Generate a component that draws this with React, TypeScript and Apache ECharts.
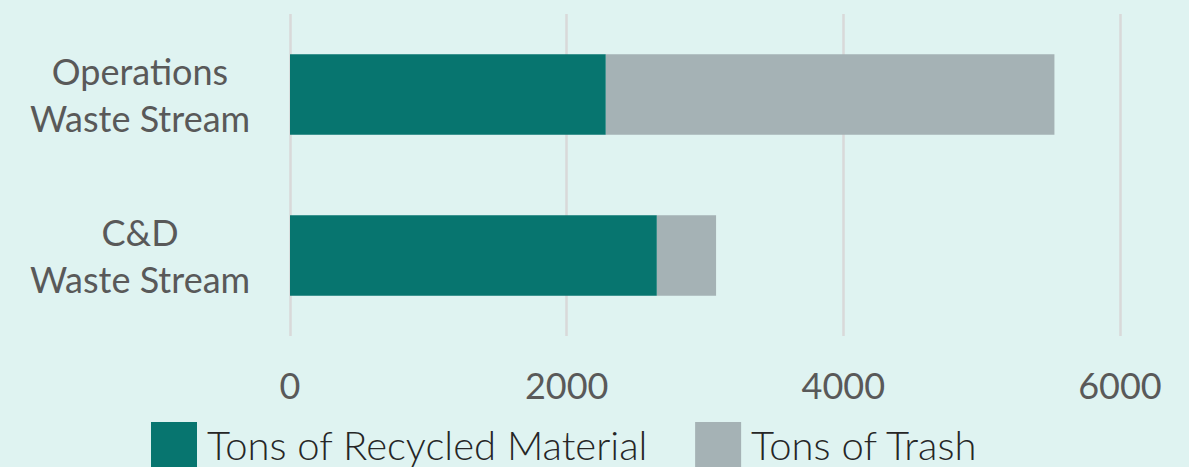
import React, { useEffect, useRef } from "react";
import * as echarts from "echarts";

const categories = ["Operations\nWaste Stream", "C&D\nWaste Stream"];
const recycled = [2283, 2652];
const trash = [3243, 428];
const seriesNames = ["Tons of Recycled Material", "Tons of Trash"];
const xTicks = [0, 2000, 4000, 6000];

export default function App() {
  const ref = useRef<HTMLDivElement>(null);
  useEffect(() => {
    if (!ref.current) return;
    const chart = echarts.init(ref.current, undefined, { renderer: "svg" });
    chart.setOption({
      animation: false,
      backgroundColor: "#dff3f1",
      textStyle: { fontFamily: "Lato" },
      grid: { left: 290, right: 69, top: 14, bottom: 131, containLabel: false },
      legend: {
        left: 151,
        top: 422,
        padding: 0,
        itemWidth: 46,
        itemHeight: 46,
        itemGap: 47,
        icon: "rect",
        textStyle: {
          fontSize: 40,
          color: "#262626",
          fontFamily: "Lato",
          fontWeight: 300,
          padding: [0, 0, 4, 5],
        },
        data: seriesNames,
      },
      xAxis: {
        type: "value",
        min: xTicks[0],
        max: xTicks[xTicks.length - 1],
        interval: 2000,
        axisLine: { show: false },
        axisTick: { show: false },
        splitLine: { show: true, lineStyle: { color: "#d9d9d9", width: 2.5 } },
        axisLabel: {
          fontSize: 36,
          color: "#595959",
          margin: 31,
          fontFamily: "Lato",
          formatter: (v: number) => String(v),
        },
      },
      yAxis: {
        type: "category",
        inverse: true,
        data: categories,
        axisLine: { show: false },
        axisTick: { show: false },
        axisLabel: {
          fontSize: 36,
          color: "#595959",
          align: "center",
          margin: 150,
          lineHeight: 47,
          padding: [0, 0, 6, 0],
          fontFamily: "Lato",
        },
      },
      series: [
        {
          name: seriesNames[0],
          type: "bar",
          stack: "total",
          barWidth: "50%",
          data: recycled,
          itemStyle: { color: "#07756f" },
        },
        {
          name: seriesNames[1],
          type: "bar",
          stack: "total",
          barWidth: "50%",
          data: trash,
          itemStyle: { color: "#a5b2b5" },
        },
      ],
    });
    return () => chart.dispose();
  }, []);
  return (
    <div
      ref={ref}
      style={{ position: "fixed", left: 0, top: 0, width: 1189, height: 467 }}
    />
  );
}
